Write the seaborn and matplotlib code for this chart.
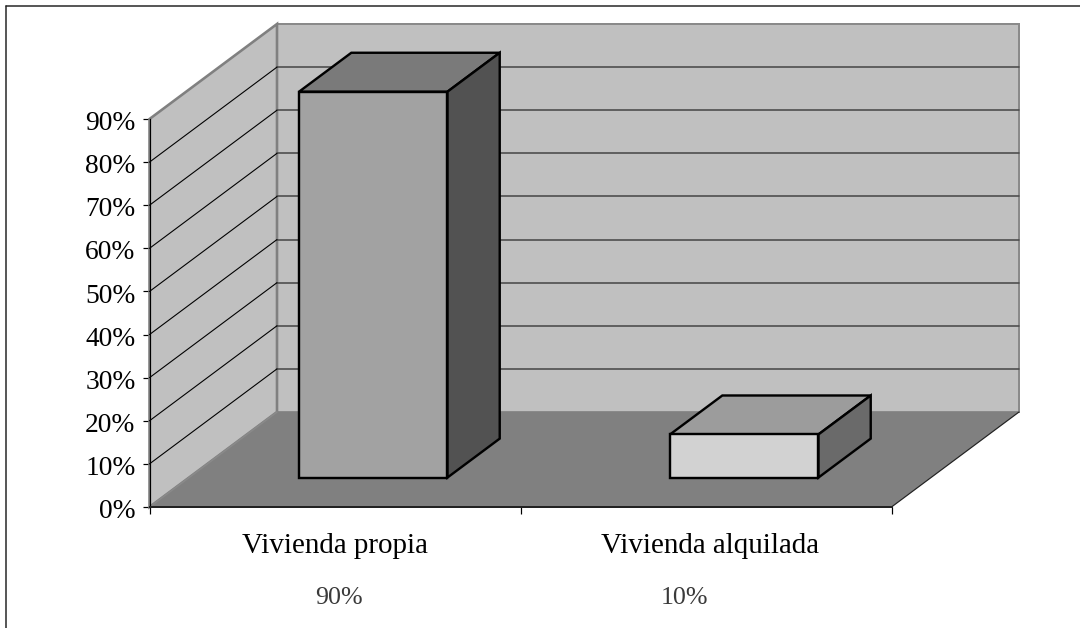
import matplotlib
matplotlib.use("Agg")
import matplotlib.pyplot as plt
import matplotlib.lines as mlines
from matplotlib.patches import Polygon
from matplotlib.transforms import ScaledTranslation
import seaborn as sns

categories = ["Vivienda propia", "Vivienda alquilada"]
values = [89.5, 10]
value_labels = ["90%", "10%"]
y_ticks = [0, 10, 20, 30, 40, 50, 60, 70, 80, 90]
face_colors = ["#A2A2A2", "#D2D2D2"]
top_colors = ["#7A7A7A", "#9C9C9C"]
side_colors = ["#525252", "#6A6A6A"]

W, H = 1080, 628
sns.set_theme(style="white")
plt.rcParams["font.family"] = ["Liberation Serif", "DejaVu Serif"]
fig = plt.figure(figsize=(W / 100, H / 100), dpi=100, facecolor="white")
L, R, B, T = 149.5, 891.5, 507.0, 119.0
ax = fig.add_axes([L / W, 1 - B / H, (R - L) / W, (B - T) / H])
px = 0.72

sns.barplot(x=categories, y=values, hue=categories, palette=face_colors,
            width=0.4, legend=False, ax=ax, zorder=6,
            edgecolor="black", linewidth=2.4 * px)
ax.set_xlim(-0.5, 1.5)
ax.set_ylim(0, 90)
ax.patch.set_visible(False)

xu = (R - L) / 2
yu = (B - T) / 90
DX, DY = 127.5 / xu, 95.0 / yu      # full depth of the 3-D box in data units


def at(x, y, d):
    return (x + DX * d, y + DY * d)


def poly(pts, fc, ec="none", lw=0.0, z=1):
    ax.add_patch(Polygon(pts, closed=True, facecolor=fc, edgecolor=ec,
                         linewidth=lw * px, zorder=z, clip_on=False, joinstyle="miter"))


x0, x1, ymax = -0.5, 1.5, 90
# walls and floor
poly([at(x0, 0, 1), at(x1, 0, 1), at(x1, ymax, 1), at(x0, ymax, 1)], "#C0C0C0", "#8A8A8A", 2, 1)
poly([at(x0, 0, 0), at(x0, 0, 1), at(x0, ymax, 1), at(x0, ymax, 0)], "#C0C0C0", "#808080", 2.6, 2)
poly([at(x0, 0, 0), at(x1, 0, 0), at(x1, 0, 1), at(x0, 0, 1)], "#808080", z=3)
ax.plot(*zip(at(x1, 0, 0), at(x1, 0, 1)), color="#222222", lw=1.2 * px, clip_on=False, zorder=4)
ax.plot(*zip(at(x0, 0, 0), at(x0, 0, 1)), color="#8A8A8A", lw=1.5 * px, clip_on=False, zorder=3.5)

# gridlines
for v in y_ticks[1:-1]:
    ax.plot(*zip(at(x0, v, 1), at(x1, v, 1)), color="#4A4A4A", lw=1.6 * px, clip_on=False, zorder=2.5)
    ax.plot(*zip(at(x0, v, 0), at(x0, v, 1)), color="black", lw=1.1 * px, clip_on=False, zorder=2.5)

# 3-D bars
D0, D1 = 0.31, 0.72
for i, bar in enumerate(ax.patches[:len(values)]):
    left = bar.get_x() + DX * 0.30
    right = left + bar.get_width()
    base = DY * D0
    val = values[i]
    bar.set_x(left)
    bar.set_y(base)
    bar.set_clip_on(False)
    bar.set_joinstyle("miter")
    dd = D1 - D0
    b = lambda x, y, d: (x + DX * d, y + DY * d)
    poly([b(left, base + val, 0), b(right, base + val, 0),
          b(right, base + val, dd), b(left, base + val, dd)],
         top_colors[i], "black", 2.4, 5)
    poly([b(right, base, 0), b(right, base, dd),
          b(right, base + val, dd), b(right, base + val, 0)],
         side_colors[i], "black", 2.4, 5)

# axes
sns.despine(ax=ax, top=True, right=True)
for s in ("left", "bottom"):
    ax.spines[s].set_zorder(5)
ax.spines["left"].set_color("black")
ax.spines["left"].set_linewidth(1.2 * px)
ax.spines["bottom"].set_color("#222222")
ax.spines["bottom"].set_linewidth(2 * px)

ax.set_yticks(y_ticks)
ax.set_yticklabels([f"{v}%" for v in y_ticks], fontsize=27.5 * px, color="black")
ax.tick_params(axis="y", length=7 * px, width=1.2 * px, color="black", pad=5, left=True)
nudge = ScaledTranslation(0, -1.6 / 100, fig.dpi_scale_trans)
for lab in ax.get_yticklabels():
    lab.set_transform(lab.get_transform() + nudge)
ax.set_xticks([0, 1.01])
ax.set_xticklabels(categories, fontsize=29 * px, color="black")
ax.set_xticks([-0.5, 0.5, 1.5], minor=True)
ax.tick_params(axis="x", which="major", length=0, pad=18.5)
ax.tick_params(axis="x", which="minor", length=7 * px, width=1.2 * px, color="black", bottom=True)
ax.set_xlabel("")
ax.set_ylabel("")
ax.grid(False)

# value row under the categories
for lab, x in zip(value_labels, [0.011, 0.943]):
    ax.annotate(lab, xy=(x, 0), xytext=(0, -91 * px), textcoords="offset points",
                ha="center", va="center", fontsize=26 * px, color="#3A3A3A",
                annotation_clip=False)

# outer frame (only left and top fall inside the picture)
fig.add_artist(mlines.Line2D([5.5 / W, 5.5 / W], [0, 1 - 5.5 / H], color="#222222", lw=1.5 * px))
fig.add_artist(mlines.Line2D([5.5 / W, 1], [1 - 5.5 / H, 1 - 5.5 / H], color="#222222", lw=1.5 * px))

fig.savefig("out.png", dpi=100, facecolor="white")
